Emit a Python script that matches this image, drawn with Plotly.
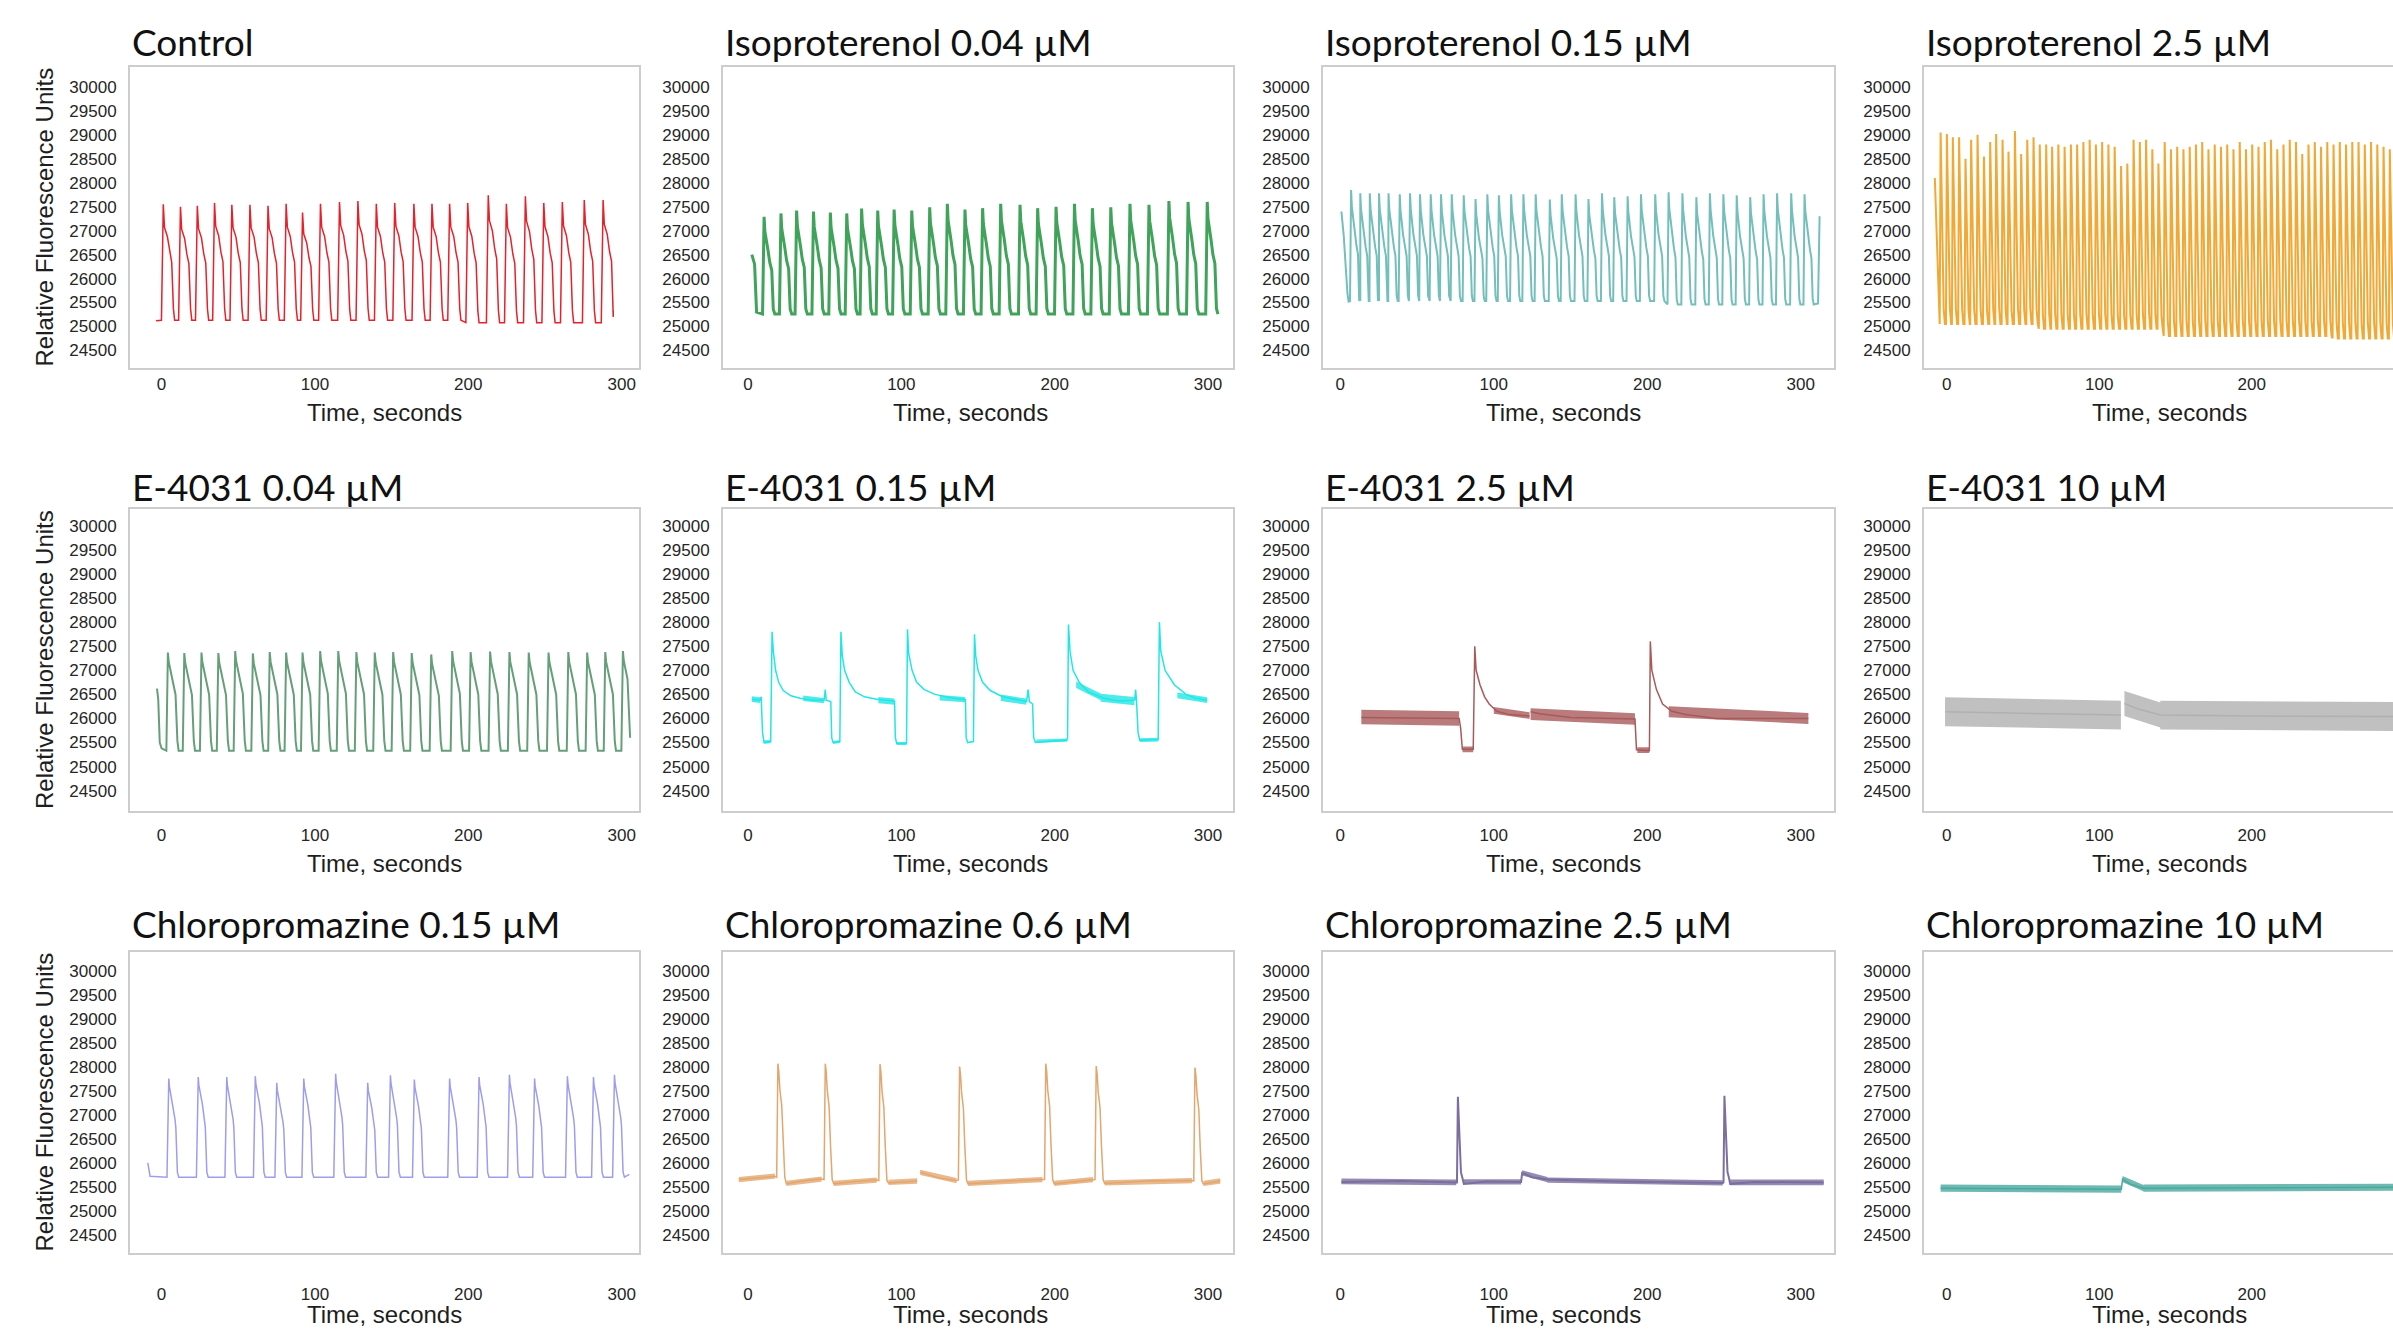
import plotly.graph_objects as go

W, H = 2393, 1330

# ---------------- text ----------------
panel_titles = ["Control", "Isoproterenol 0.04 µM", "Isoproterenol 0.15 µM", "Isoproterenol 2.5 µM",
                "E-4031 0.04 µM", "E-4031 0.15 µM", "E-4031 2.5 µM", "E-4031 10 µM",
                "Chloropromazine 0.15 µM", "Chloropromazine 0.6 µM", "Chloropromazine 2.5 µM",
                "Chloropromazine 10 µM"]
x_title = "Time, seconds"
y_title = "Relative Fluorescence Units"
x_ticks = [0, 100, 200, 300]
y_ticks = [24500, 25000, 25500, 26000, 26500, 27000, 27500, 28000, 28500, 29000, 29500, 30000]
y_tick_text = ["24500", "25000", "25500", "26000", "26500", "27000", "27500", "28000", "28500", "29000",
               "29500", "30000"]

# ---------------- data ----------------
# Control
ctrl_t = [1.1, 12.3, 23.3, 34.5, 45.8, 57.6, 69.4, 81.2, 91.9, 103.6, 116.0, 128.0, 140.0, 152.0,
          164.5, 176.3, 187.8, 199.6, 213.0, 224.8, 237.2, 249.2, 261.3, 275.6, 287.9]
ctrl_peak = [27550, 27500, 27520, 27580, 27540, 27540, 27520, 27560, 27380, 27560, 27600, 27620, 27560,
             27580, 27560, 27560, 27560, 27580, 27740, 27560, 27720, 27580, 27600, 27640, 27640]
ctrl_base = [25130] * 17 + [25080] * 8
ctrl_extra_t = [-3.6, 294.5]
ctrl_extra_v = [25120, 25200]

# Isoproterenol 0.04
iso004_t = [10.5, 21.5, 31.7, 42.7, 53.7, 64.4, 74.1, 84.6, 95.3, 106.8, 118.5, 130.0, 141.5, 153.0,
            164.8, 177.4, 188.9, 200.9, 212.9, 224.6, 236.6, 249.1, 261.5, 274.5, 287.0, 299.5]
iso004_peak = [27290, 27360, 27420, 27400, 27380, 27360, 27460, 27420, 27440, 27420, 27490, 27560, 27440,
               27470, 27560, 27540, 27470, 27500, 27560, 27470, 27490, 27560, 27540, 27620, 27600, 27600]
iso004_base = [25260] * 26
iso004_extra_t = [2.5, 4.3, 5.6]
iso004_extra_v = [26500, 26300, 25300]

# Isoproterenol 0.15
iso015_t = [7.0, 13.0, 19.2, 25.2, 31.4, 38.7, 45.4, 51.9, 58.9, 65.6, 72.6, 80.4, 88.1, 95.8, 103.3,
            111.3, 119.3, 127.3, 136.5, 144.3, 153.3, 161.7, 170.5, 178.5, 187.2, 195.9, 205.2, 213.9,
            222.9, 232.0, 240.8, 249.6, 258.3, 267.1, 275.8, 284.6, 293.8, 302.5]
iso015_peak = [27850, 27780, 27780, 27780, 27780, 27760, 27780, 27760, 27760, 27760, 27760, 27740, 27660,
               27760, 27740, 27760, 27760, 27760, 27650, 27760, 27760, 27660, 27780, 27700, 27720, 27760,
               27760, 27800, 27780, 27700, 27780, 27760, 27740, 27700, 27760, 27780, 27780, 27760]
iso015_base = [25530] * 27 + [25460] * 11
iso015_extra_t = [0.7, 2.2, 4.6, 5.4, 311.3, 312.3]
iso015_extra_v = [27400, 26900, 25700, 25520, 25480, 27300]

# Isoproterenol 2.5
iso25_t = [-4.0, 0.1, 4.0, 8.1, 12.3, 16.0, 20.2, 24.4, 28.5, 32.4, 36.6, 40.5, 44.7, 48.8, 52.8, 56.9,
           61.0, 65.2, 69.1, 73.2, 77.3, 81.4, 85.5, 89.6, 93.7, 97.8, 101.9, 106.0, 110.1, 114.3, 118.4,
           122.5, 126.6, 130.7, 134.8, 138.8, 142.9, 147.0, 151.1, 155.2, 159.3, 163.4, 167.5, 171.6,
           175.7, 179.8, 183.9, 188.0, 192.1, 196.2, 200.3, 204.4, 208.5, 212.6, 216.7, 220.8, 224.9,
           229.0, 233.1, 237.2, 241.3, 245.4, 249.5, 253.6, 257.7, 261.8, 265.9, 270.0, 274.1, 278.2,
           282.3, 286.4, 290.5]
iso25_peak = [29050, 29020, 28950, 28950, 28500, 28900, 29000, 28550, 28850, 29020, 28900, 28650, 29080,
              28600, 28900, 28950, 28800, 28800, 28750, 28800, 28750, 28800, 28800, 28850, 28900, 28800,
              28850, 28800, 28750, 28350, 28400, 28900, 28850, 28900, 28700, 28400, 28850, 28700, 28750,
              28700, 28750, 28800, 28850, 28700, 28800, 28750, 28800, 28700, 28850, 28700, 28800, 28750,
              28850, 28900, 28700, 28800, 28900, 28850, 28600, 28800, 28850, 28750, 28850, 28800, 28850,
              28800, 28850, 28850, 28800, 28850, 28800, 28750, 28700]
iso25_base = [25050] * 16 + [24950] * 20 + [24800] * 27 + [24750] * 10
iso25_extra_t = [-7.8]
iso25_extra_v = [28100]

# E-4031 0.04
e004_t = [4.1, 14.8, 26.0, 37.0, 48.0, 59.5, 70.5, 81.2, 91.9, 103.4, 115.2, 127.0, 139.0, 151.0, 163.1,
          175.8, 189.5, 201.5, 214.2, 226.8, 239.4, 252.3, 265.2, 277.5, 289.3, 300.8]
e004_peak = [27370, 27360, 27370, 27360, 27400, 27350, 27380, 27370, 27370, 27400, 27400, 27380, 27370,
             27380, 27360, 27330, 27400, 27380, 27390, 27380, 27370, 27370, 27380, 27370, 27380, 27400]
e004_base = [25330] * 26
e004_extra_t = [-3.0, -2.2, -1.2, 0.0, 305.5]
e004_extra_v = [26620, 26400, 25500, 25380, 25600]

# E-4031 0.15 (polyline of key points)
e015_t = [2.5, 8.0, 8.6, 9.5, 10.5, 14.8, 15.7, 16.5, 18.0, 20.0, 23.0, 28.0, 34.0, 42.0, 49.6, 50.4,
          51.0, 54.0, 54.6, 55.5, 59.9, 60.6, 61.5, 63.0, 66.0, 70.0, 76.0, 84.0, 95.6, 96.1, 97.0, 103.4,
          104.0, 104.8, 107.0, 110.0, 115.0, 122.0, 132.0, 141.8, 142.3, 143.3, 147.0, 147.7, 148.5,
          150.0, 153.0, 158.0, 166.0, 176.0, 181.7, 182.7, 183.5, 185.6, 186.3, 187.5, 208.0, 208.4,
          209.0, 210.0, 212.0, 216.0, 222.0, 232.0, 242.0, 252.2, 252.8, 253.4, 254.4, 255.5, 267.5,
          268.3, 269.2, 272.0, 278.0, 285.7, 292.0, 299.5]
e015_v = [26400, 26380, 26450, 25700, 25500, 25520, 27800, 27400, 27000, 26750, 26580, 26470, 26420,
          26380, 26380, 26600, 26380, 26350, 25600, 25500, 25520, 27800, 27300, 27000, 26750, 26550,
          26450, 26400, 26360, 25600, 25480, 25480, 27850, 27350, 27000, 26750, 26600, 26500, 26430,
          26390, 25600, 25500, 25520, 27750, 27300, 27000, 26750, 26580, 26450, 26380, 26350, 26600,
          26350, 26300, 25600, 25500, 25550, 25600, 27950, 27400, 27000, 26750, 26550, 26420, 26360,
          26380, 26600, 26350, 25700, 25550, 25560, 28000, 27400, 27000, 26700, 26500, 26420, 26380]
# noise bands: (t start, t end, centre start, centre end, half width)
e015_bands = [(2.5, 8.0, 26400, 26380, 60), (10.5, 14.8, 25510, 25520, 35), (36, 49.5, 26420, 26370, 55),
              (55.5, 59.9, 25500, 25520, 30), (85, 95.5, 26380, 26350, 65), (97, 103.4, 25480, 25480, 30),
              (125, 141.5, 26430, 26390, 55), (165, 181.5, 26430, 26350, 65), (188, 208, 25530, 25550, 35),
              (214, 230, 26700, 26450, 70), (230, 252, 26430, 26360, 85), (255.5, 267.5, 25550, 25560, 40),
              (280, 299.5, 26480, 26380, 60)]

# E-4031 2.5
e25_t = [13.7, 77.4, 78.4, 79.5, 86.6, 87.6, 88.5, 91, 94, 97, 102, 110, 123.3, 124.0, 130, 150, 192.0,
         193.0, 201.4, 202.0, 203.0, 206, 210, 216, 225, 245, 305]
e25_v = [26020, 26000, 25800, 25360, 25360, 27500, 27000, 26700, 26450, 26300, 26150, 26080, 26050, 26140,
         26100, 26020, 25990, 25350, 25330, 27600, 27000, 26600, 26300, 26150, 26080, 26000, 26000]
e25_bands = [(13.7, 77.4, 26030, 26000, 150), (79.6, 86.6, 25360, 25360, 60), (100, 123.3, 26170, 26060, 70),
             (124, 192, 26090, 25990, 120), (193.5, 201.3, 25340, 25340, 60), (214, 305, 26140, 26000, 115)]

# E-4031 10
e10_t = [-1.1, 50, 114.2, 116.5, 125, 140, 200, 300]
e10_v = [26140, 26110, 26070, 26310, 26200, 26070, 26050, 26040]
e10_bands = [(-1.1, 114.2, 26140, 26070, 300), (116.5, 140, 26310, 26070, 260), (140, 300, 26070, 26040, 300)]

# Chloropromazine 0.15
cp015_t = [4.7, 23.9, 42.5, 61.1, 75.1, 92.7, 113.5, 134.4, 149.2, 164.8, 187.8, 207.0, 226.8, 243.2,
           264.6, 281.6, 295.3]
cp015_peak = [27760, 27790, 27790, 27810, 27670, 27760, 27860, 27670, 27830, 27740, 27760, 27790, 27840,
              27760, 27810, 27790, 27840]
cp015_base = [25700] * 17
cp015_extra_t = [-9.0, -7.5, 305.0]
cp015_extra_v = [26000, 25720, 25760]

# Chloropromazine 0.6
cp06_t = [19.5, 50.4, 86.1, 138.0, 194.2, 227.1, 291.5]
cp06_peak = [28070, 28070, 28060, 28010, 28070, 28020, 27990]
cp06_base = [25700, 25650, 25630, 25640, 25650, 25650, 25620]
cp06_extra_t = [-6, 17.5, 25.0, 35, 48.0, 56.0, 70, 84.0, 91.6, 110.3, 112.3, 125, 136.0, 143.5, 170, 192.0,
                199.7, 225.0, 232.6, 260, 289.5, 297.0, 308]
cp06_extra_v = [25650, 25720, 25560, 25620, 25660, 25560, 25610, 25640, 25580, 25620, 25800, 25680, 25630,
                25560, 25620, 25650, 25560, 25650, 25570, 25620, 25630, 25560, 25620]
cp06_bands = [(-6, 17.5, 25650, 25720, 55), (25, 48, 25570, 25660, 55), (56, 84, 25570, 25640, 55),
              (91.6, 110.3, 25590, 25620, 55), (112.3, 136, 25800, 25630, 55), (143.5, 192, 25570, 25650, 55),
              (199.7, 225, 25570, 25650, 55), (232.6, 289.5, 25580, 25630, 55), (297, 308, 25570, 25620, 55)]

# Chloropromazine 2.5
cp25_t = [76.6, 250.3]
cp25_peak = [27380, 27400]
cp25_base = [25590, 25590]
cp25_extra_t = [0.7, 40, 75.5, 80.5, 95, 117.8, 118.5, 125, 135, 180, 249.2, 254, 270, 315]
cp25_extra_v = [25600, 25620, 25590, 25560, 25610, 25600, 25790, 25700, 25650, 25610, 25580, 25560, 25600, 25590]
cp25_bands = [(0.7, 75.5, 25610, 25590, 60), (80.5, 117.8, 25600, 25600, 55), (118.5, 135, 25790, 25650, 55),
              (135, 249.2, 25640, 25580, 55), (254, 315, 25590, 25590, 60)]

# Chloropromazine 10
cp10_t = [-4, 60, 114.5, 115.3, 120, 129, 200, 300]
cp10_v = [25470, 25460, 25450, 25660, 25560, 25470, 25480, 25490]
cp10_bands = [(-4, 114.5, 25470, 25450, 75), (115.3, 129, 25660, 25470, 65), (129, 300, 25470, 25490, 75)]

# beat shapes: (seconds after peak, fraction of beat amplitude)
shape_ctrl = [(0.8, 0.8), (2.7, 0.72), (4.2, 0.58), (5.5, 0.5), (6.6, 0.1), (7.4, 0.0)]
shape_iso004 = [(0.5, 0.85), (2.5, 0.66), (3.7, 0.53), (5.0, 0.45), (6.0, 0.05), (7.0, 0.0)]
shape_iso015 = [(0.5, 0.85), (2.2, 0.62), (3.5, 0.5), (4.5, 0.42), (5.3, 0.05), (6.0, 0.0)]
shape_iso25 = [(0.4, 0.8), (1.2, 0.35), (2.0, 0.08), (2.8, 0.0)]
shape_e004 = [(0.6, 0.9), (3.0, 0.72), (5.0, 0.57), (6.2, 0.1), (7.0, 0.0)]
shape_cp015 = [(0.4, 0.92), (2.7, 0.73), (4.1, 0.58), (4.6, 0.5), (5.6, 0.05), (6.5, 0.0)]
shape_cp06 = [(0.6, 0.93), (1.3, 0.77), (2.5, 0.63), (3.4, 0.3), (4.5, 0.0)]
shape_cp25 = [(0.5, 0.8), (1.2, 0.45), (2.0, 0.12), (3.0, 0.05)]

colors = ["#e8202a", "#3fa35a", "#72bfbb", "#f2a833",
          "#659f79", "#22e6e6", "#a85a5a", "#b0b0b0",
          "#9d9df0", "#e3a66e", "#7a6f9f", "#4aa99f"]


def build(spk_t, spk_v, spk_b, rise, shape, extra_t, extra_v, t0, t1, gaps=()):
    pts = list(zip(extra_t, extra_v))
    for tp, pv, b in zip(spk_t, spk_v, spk_b):
        pts.append((tp - rise, b))
        pts.append((tp, pv))
        for dt, fr in shape:
            pts.append((tp + dt, b + fr * (pv - b)))
    pts = sorted(p for p in pts if t0 <= p[0] <= t1)
    xs, ys = [], []
    for x, y in pts:
        if xs and any(xs[-1] < g <= x for g in gaps):
            xs.append(None)
            ys.append(None)
        xs.append(x)
        ys.append(y)
    return xs, ys


def band_poly(segs):
    xs, ys = [], []
    for a, b, c0, c1, hw in segs:
        xs += [a, b, b, a, a, None]
        ys += [c0 - hw, c1 - hw, c1 + hw, c0 + hw, c0 - hw, None]
    return xs, ys


panels = [
    dict(line=build(ctrl_t, ctrl_peak, ctrl_base, 1.2, shape_ctrl, ctrl_extra_t, ctrl_extra_v, -4, 294.5), w=1.5),
    dict(line=build(iso004_t, iso004_peak, iso004_base, 1.0, shape_iso004, iso004_extra_t, iso004_extra_v, 2, 307), w=3.0),
    dict(line=build(iso015_t, iso015_peak, iso015_base, 0.7, shape_iso015, iso015_extra_t, iso015_extra_v, 0, 313), w=2.0),
    dict(line=build(iso25_t, iso25_peak, iso25_base, 0.6, shape_iso25, iso25_extra_t, iso25_extra_v, -8, 310), w=2.0),
    dict(line=build(e004_t, e004_peak, e004_base, 1.0, shape_e004, e004_extra_t, e004_extra_v, -3.5, 305.5), w=2.0),
    dict(line=build([], [], [], 0, [], e015_t, e015_v, 0, 310), w=1.5, bands=e015_bands),
    dict(line=build([], [], [], 0, [], e25_t, e25_v, 0, 310, gaps=[123.6]), w=1.5, bands=e25_bands),
    dict(line=build([], [], [], 0, [], e10_t, e10_v, -2, 310, gaps=[115]), w=1.5, bands=e10_bands),
    dict(line=build(cp015_t, cp015_peak, cp015_base, 1.2, shape_cp015, cp015_extra_t, cp015_extra_v, -10, 305), w=1.5),
    dict(line=build(cp06_t, cp06_peak, cp06_base, 0.8, shape_cp06, cp06_extra_t, cp06_extra_v, -7, 309, gaps=[111]), w=1.5, bands=cp06_bands),
    dict(line=build(cp25_t, cp25_peak, cp25_base, 0.6, shape_cp25, cp25_extra_t, cp25_extra_v, 0, 316), w=2.0, bands=cp25_bands),
    dict(line=build([], [], [], 0, [], cp10_t, cp10_v, -5, 310), w=1.5, bands=cp10_bands),
]

# ---------------- layout geometry (pixels) ----------------
col_left = [130, 723, 1323, 1924]
col_right = [639, 1233, 1834, 2393]
x_ranges = [[-20.6, 311.3], [-16.3, 316.3], [-11.3, 321.7], [-14.9, 292.6]]
row_top = [67, 509, 952]
row_bot = [368, 811, 1253]
y_ranges = [[24133, 30417], [24078, 30350], [24116, 30403]]
title_cy = [42, 486, 923]
xtitle_cy = [412, 863, 1314]
xtitle_cx = [384.6, 970.6, 1563.4, 2169]
xlabel_standoff = [0, 8, 25]

fig = go.Figure()
layout = {}
annotations = []


def rgba(hexc, a):
    h = hexc.lstrip('#')
    return f"rgba({int(h[0:2], 16)},{int(h[2:4], 16)},{int(h[4:6], 16)},{a})"


tick_font = dict(family='Liberation Sans, Arial, sans-serif', size=17, color='#262626')
for i in range(12):
    r, c = divmod(i, 4)
    sx = '' if i == 0 else str(i + 1)
    p = panels[i]
    if p.get('bands'):
        bx, by = band_poly(p['bands'])
        fig.add_trace(go.Scatter(x=bx, y=by, mode='lines', fill='toself', fillcolor=rgba(colors[i], 0.8),
                                 line=dict(width=0), hoverinfo='skip', showlegend=False,
                                 xaxis='x' + sx, yaxis='y' + sx))
    lx, ly = p['line']
    fig.add_trace(go.Scatter(x=lx, y=ly, mode='lines', line=dict(color=colors[i], width=p['w']),
                             hoverinfo='skip', showlegend=False, xaxis='x' + sx, yaxis='y' + sx))
    axis_common = dict(showgrid=False, zeroline=False, showline=True, linecolor='#cdcdcd', linewidth=2,
                       ticks='', tickfont=tick_font)
    layout['xaxis' + sx] = dict(domain=[col_left[c] / W, col_right[c] / W], range=x_ranges[c],
                                tickvals=x_ticks, ticktext=[str(v) for v in x_ticks], anchor='y' + sx,
                                mirror=True, ticklabelstandoff=xlabel_standoff[r], **axis_common)
    layout['yaxis' + sx] = dict(domain=[1 - row_bot[r] / H, 1 - row_top[r] / H], range=y_ranges[r],
                                tickvals=y_ticks, ticktext=y_tick_text, anchor='x' + sx, mirror=(c != 3),
                                ticklabelstandoff=8, **axis_common)
    annotations.append(dict(text=panel_titles[i], x=col_left[c] / W, y=1 - title_cy[r] / H,
                            xref='paper', yref='paper', xanchor='left', yanchor='middle', showarrow=False,
                            font=dict(family='Lato', size=37, color='#111111')))
    annotations.append(dict(text=x_title, x=xtitle_cx[c] / W, y=1 - xtitle_cy[r] / H,
                            xref='paper', yref='paper', xanchor='center', yanchor='middle', showarrow=False,
                            font=dict(family='Liberation Sans, Arial, sans-serif', size=24, color='#1e1e1e')))
    if c == 0:
        annotations.append(dict(text=y_title, x=44 / W, y=1 - (row_top[r] + row_bot[r]) / 2 / H,
                                xref='paper', yref='paper', xanchor='center', yanchor='middle',
                                showarrow=False, textangle=-90,
                                font=dict(family='Liberation Sans, Arial, sans-serif', size=24,
                                          color='#1e1e1e')))

fig.update_layout(width=W, height=H, margin=dict(l=0, r=0, t=0, b=0), paper_bgcolor='white',
                  plot_bgcolor='white', showlegend=False, annotations=annotations, **layout)
fig.write_html("out.html")
